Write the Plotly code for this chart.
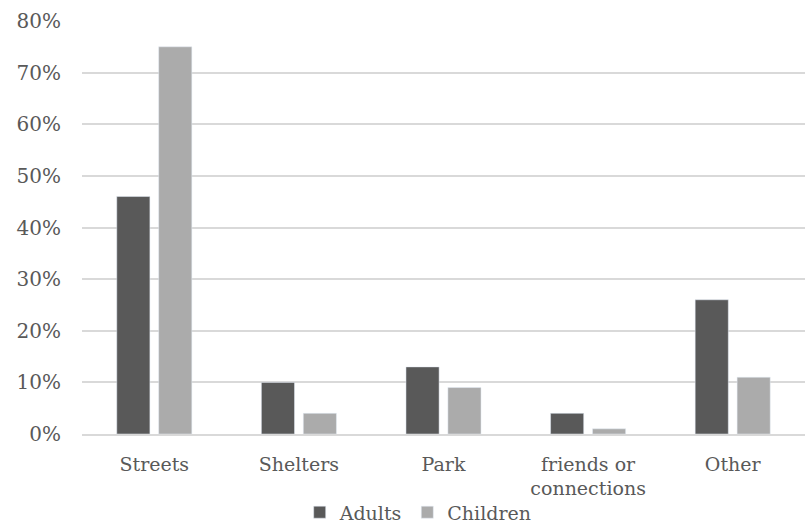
import plotly.graph_objects as go

categories = ["Streets", "Shelters", "Park", "friends or<br>connections", "Other"]
adults = [0.46, 0.10, 0.13, 0.04, 0.26]
children = [0.75, 0.04, 0.09, 0.01, 0.11]
tick_vals = [0, 0.1, 0.2, 0.3, 0.4, 0.5, 0.6, 0.7, 0.8]
tick_text = ["0%", "10%", "20%", "30%", "40%", "50%", "60%", "70%", "80%"]

font_family = "DejaVu Serif"
text_color = "#595959"

fig = go.Figure()
fig.add_trace(go.Bar(name="Adults", x=categories, y=adults, marker_color="#595959"))
fig.add_trace(go.Bar(name="Children", x=categories, y=children, marker_color="#ababab"))

fig.update_layout(
    width=807, height=526,
    margin=dict(l=82, r=2, t=21, b=92),
    paper_bgcolor="white", plot_bgcolor="white",
    barmode="group", bargap=0.42, bargroupgap=0.21,
    font=dict(family=font_family, size=19, color=text_color),
    legend=dict(orientation="h", x=0.465, xanchor="center",
                yref="container", y=0.026, yanchor="middle",
                bgcolor="rgba(0,0,0,0)",
                font=dict(size=19, color=text_color), traceorder="normal",
                itemwidth=30, tracegroupgap=0),
    showlegend=True,
)
fig.update_yaxes(range=[0, 0.8], tickvals=tick_vals, ticktext=tick_text,
                 showgrid=True, gridcolor="#d9d9d9", gridwidth=1.5,
                 zeroline=False, ticks="", ticklen=0, showline=False,
                 automargin=False, ticklabelstandoff=20,
                 tickfont=dict(size=20, color=text_color))
fig.update_xaxes(showline=True, linecolor="#d9d9d9", linewidth=1.5, ticks="",
                 automargin=False, ticklabelstandoff=12,
                 tickfont=dict(size=19, color=text_color))

fig.write_html("out.html")
